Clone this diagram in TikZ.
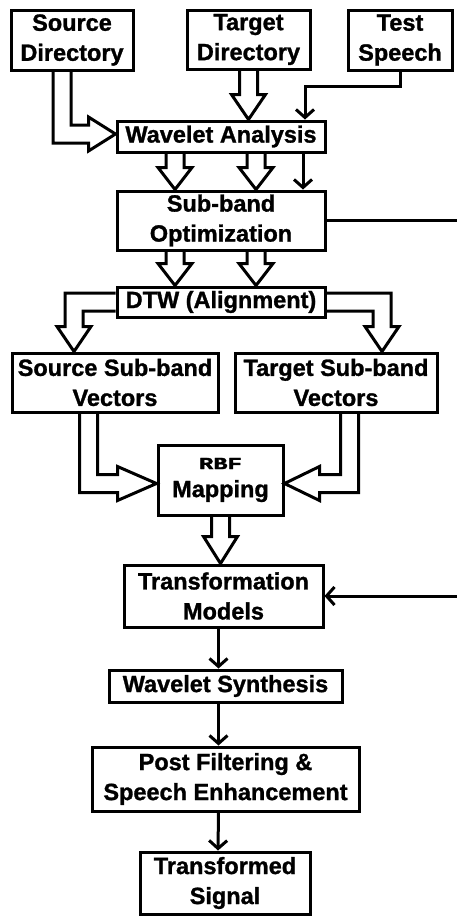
\documentclass[tikz,border=0pt]{standalone}
\usepackage{fontspec}
\setmainfont{Liberation Sans}[BoldFeatures={FakeBold=1.2}]
\newfontfamily\rbffont{Liberation Mono}[BoldFeatures={FakeBold=1.5}]
\usetikzlibrary{arrows.meta,calc}

% half widths of the block-arrow shafts and heads
\def\sw{9pt}
\def\hw{17pt}

% hollow block arrow straight down: start, tip, head length
\newcommand\blockdown[3]{%
  \draw[blk] let \p1=(#1), \p2=(#2) in
    ({\x2-\sw},\y1) -- ({\x2-\sw},{\y2+#3}) -- ({\x2-\hw},{\y2+#3}) -- (\x2,\y2)
    -- ({\x2+\hw},{\y2+#3}) -- ({\x2+\sw},{\y2+#3}) -- ({\x2+\sw},\y1);}

% hollow block arrow going down, then sideways (sign +1: to the right, -1: to the left)
\newcommand\blockdownside[4]{%
  \draw[blk] let \p1=(#1), \p2=(#2) in
    ({\x1-(#4)*\sw},\y1) -- ({\x1-(#4)*\sw},{\y2-\sw}) -- ({\x2-(#4)*#3},{\y2-\sw})
    -- ({\x2-(#4)*#3},{\y2-\hw}) -- (\x2,\y2) -- ({\x2-(#4)*#3},{\y2+\hw})
    -- ({\x2-(#4)*#3},{\y2+\sw}) -- ({\x1+(#4)*\sw},{\y2+\sw}) -- ({\x1+(#4)*\sw},\y1);}

% hollow block arrow going sideways, then down (sign +1: to the right, -1: to the left)
\newcommand\blocksidedown[4]{%
  \draw[blk] let \p1=(#1), \p2=(#2) in
    (\x1,{\y1+\sw}) -- ({\x2+(#4)*\sw},{\y1+\sw}) -- ({\x2+(#4)*\sw},{\y2+#3})
    -- ({\x2+(#4)*\hw},{\y2+#3}) -- (\x2,\y2) -- ({\x2-(#4)*\hw},{\y2+#3})
    -- ({\x2-(#4)*\sw},{\y2+#3}) -- ({\x2-(#4)*\sw},{\y1-\sw}) -- (\x1,{\y1-\sw});}

\begin{document}
\begin{tikzpicture}[x=1pt,y=-1pt,
    box/.style={draw, line width=3pt, inner sep=0pt, align=center,
      font=\bfseries\fontsize{23.5}{30}\selectfont},
    blk/.style={draw, line width=3pt, line join=miter},
    thin/.style={draw, line width=3pt,
      -{Straight Barb[length=8pt,width=18pt,line width=3pt]}}]
  \useasboundingbox (0,0) rectangle (457,916);
  \clip (0,0) rectangle (457,916);
  \fill[white] (0,0) rectangle (457,916);

  % boxes
  \node[box, minimum width=122, minimum height=60] (sd)  at (72,40)      {Source\\Directory};
  \node[box, minimum width=123, minimum height=59] (td)  at (248.5,39.5) {Target\\Directory};
  \node[box, minimum width=104, minimum height=60] (tsp) at (400,40)     {Test\\Speech};
  \node[box, minimum width=208, minimum height=31] (wa)  at (221,136.5)  {Wavelet Analysis};
  \node[box, minimum width=208, minimum height=59] (sbo) at (221,220.5)  {Sub-band\\Optimization};
  \node[box, minimum width=208, minimum height=30] (dtw) at (221,302)    {DTW (Alignment)};
  \node[box, minimum width=206, minimum height=59] (ssv) at (115,382.5)  {Source Sub-band\\Vectors};
  \node[box, minimum width=202, minimum height=59] (tsv) at (336,382.5)  {Target Sub-band\\Vectors};
  \node[box, minimum width=125, minimum height=70] (rbf) at (220.5,480)
    {\raisebox{-2pt}{\scalebox{1.4}[1]{\rbffont\bfseries\fontsize{17}{17}\selectfont RBF}}\\Mapping};
  \node[box, minimum width=199, minimum height=62] (tm)  at (223.5,596)  {Transformation\\Models};
  \node[box, minimum width=233, minimum height=32] (ws)  at (225.5,686)  {Wavelet Synthesis};
  \node[box, minimum width=267, minimum height=64] (pf)  at (225.5,779)  {Post Filtering \&\\Speech Enhancement};
  \node[box, minimum width=170, minimum height=62] (out) at (225,883)    {Transformed\\Signal};

  % inputs into the wavelet analysis
  \blockdownside{$(sd.south)+(-10,0)$}{$(wa.west)+(0,-2.5)$}{27pt}{1}
  \blockdown{td.south}{td.south |- wa.north}{25pt}
  \draw[thin] (tsp.south) -- ++(0,15) -| ($(wa.north)+(84,0)$);

  % analysis to optimisation
  \blockdown{$(wa.south)+(-46,0)$}{$(sbo.north)+(-46,0)$}{22pt}
  \blockdown{$(wa.south)+(35,0)$}{$(sbo.north)+(35,0)$}{22pt}
  \draw[thin] ($(wa.south)+(82,0)$) -- ($(sbo.north)+(82,0)$);

  % optimisation to alignment
  \blockdown{$(sbo.south)+(-46,0)$}{$(dtw.north)+(-46,0)$}{22pt}
  \blockdown{$(sbo.south)+(35,0)$}{$(dtw.north)+(35,0)$}{22pt}

  % optimised sub-bands feed the transformation models
  \draw[thin] (sbo.east) -- ++(160,0) |- (tm.east);

  % alignment to sub-band vectors
  \blocksidedown{dtw.west}{$(ssv.north)+(-41,0)$}{25pt}{-1}
  \blocksidedown{dtw.east}{$(tsv.north)+(46,0)$}{25pt}{1}

  % sub-band vectors into the RBF mapping
  \blockdownside{$(ssv.south)+(-26.5,0)$}{$(rbf.west)+(0,3.5)$}{39pt}{1}
  \blockdownside{$(tsv.south)+(13.5,0)$}{$(rbf.east)+(0,3.5)$}{35pt}{-1}

  % mapping to models
  \blockdown{rbf.south}{rbf.south |- tm.north}{27pt}

  % synthesis chain
  \draw[thin] ($(tm.south)+(-5,0)$) -- ($(ws.north)+(-7,0)$);
  \draw[thin] ($(ws.south)+(-7,0)$) -- ($(pf.north)+(-7,0)$);
  \draw[thin] ($(pf.south)+(-7,0)$) -- ($(out.north)+(-7,0)$);
\end{tikzpicture}
\end{document}
